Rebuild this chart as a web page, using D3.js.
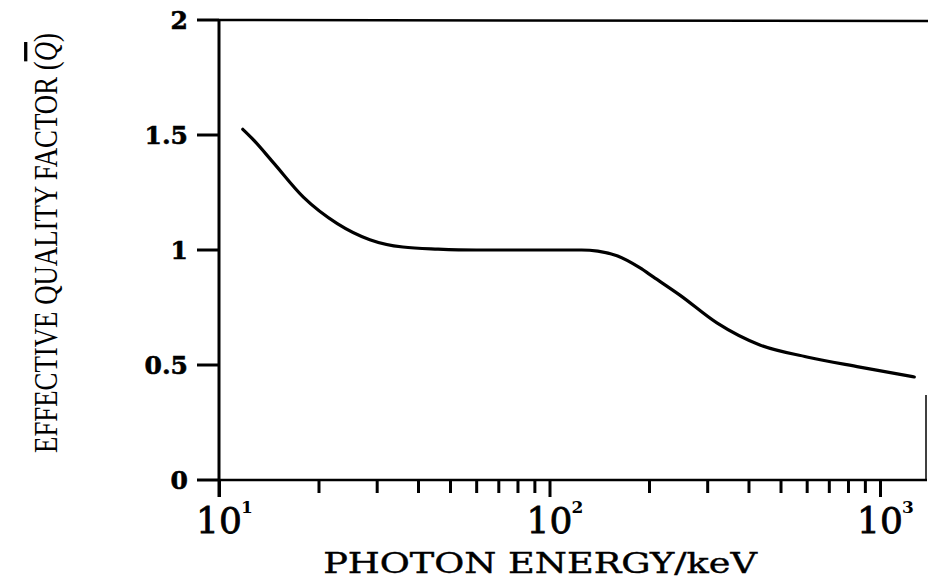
<!DOCTYPE html>
<html>
<head>
<meta charset="utf-8">
<script src="https://cdn.jsdelivr.net/npm/d3@7"></script>
<style>
  body { margin: 0; background: #fff; }
  svg { display: block; }
</style>
</head>
<body>
<script>
// photon energy (keV) and effective quality factor
var energy = [11.8, 12.5, 14.6, 18, 22.8, 28.6, 36, 46, 60, 80, 100, 125, 140, 160, 188, 206, 248, 321, 433, 601, 869, 1270];
var qbar   = [1.525, 1.49, 1.38, 1.23, 1.115, 1.045, 1.013, 1.004, 1.0, 1.0, 1.0, 1.0, 0.995, 0.975, 0.922, 0.883, 0.804, 0.683, 0.587, 0.535, 0.491, 0.448];

var yTicks = [0, 0.5, 1, 1.5, 2];
var yTickLabels = ["0", "0.5", "1", "1.5", "2"];
var xMajor = [10, 100, 1000];
var xMajorExp = ["1", "2", "3"];
var xMinor = [20, 30, 40, 50, 60, 70, 80, 90, 200, 300, 400, 500, 600, 700, 800, 900];

var width = 928, height = 581;

var x = d3.scaleLog().domain([10, 1000]).range([219, 880]);
var y = d3.scaleLinear().domain([0, 2]).range([480, 20]);
var xRight = 926;

var svg = d3.select("body").append("svg").attr("width", width).attr("height", height);

// frame lines
var frame = svg.append("g").attr("stroke", "#000").attr("fill", "none");
frame.append("line").attr("x1", x(10)).attr("x2", x(10)).attr("y1", y(2)).attr("y2", y(0) + 17).attr("stroke-width", 3);
frame.append("line").attr("x1", x(10)).attr("x2", width).attr("y1", y(2)).attr("y2", y(2) + 1).attr("stroke-width", 2.5);
frame.append("line").attr("x1", x(10)).attr("x2", xRight + 1).attr("y1", y(0)).attr("y2", y(0)).attr("stroke-width", 2.5);
frame.append("line").attr("x1", xRight).attr("x2", xRight).attr("y1", 395).attr("y2", y(0)).attr("stroke-width", 1.5);

// y axis
var yAxis = d3.axisLeft(y).tickValues(yTicks).tickSize(0).tickPadding(31)
  .tickFormat(function (d, i) { return yTickLabels[i]; });
var gy = svg.append("g").attr("transform", "translate(" + x(10) + ",0)").call(yAxis);
gy.select(".domain").remove();
gy.selectAll(".tick text")
  .style("font-family", "'DejaVu Serif'")
  .style("font-weight", "bold")
  .style("font-size", "25px")
  .style("stroke", "#000")
  .style("stroke-width", 0.6)
  .attr("fill", "#000");

// y tick dashes
svg.append("g").selectAll("line").data(yTicks).enter().append("line")
  .attr("x1", x(10) - 22)
  .attr("x2", x(10))
  .attr("y1", function (d) { return y(d); })
  .attr("y2", function (d) { return y(d); })
  .attr("stroke", "#000")
  .attr("stroke-width", 3);

// x axis minor + major ticks
var xMinorAxis = d3.axisBottom(x).tickValues(xMinor).tickSize(13).tickFormat("");
var gxm = svg.append("g").attr("transform", "translate(0," + y(0) + ")").call(xMinorAxis);
gxm.select(".domain").remove();
gxm.selectAll(".tick line").attr("stroke", "#000").attr("stroke-width", 3);

var xMajorAxis = d3.axisBottom(x).tickValues(xMajor).tickSize(17).tickFormat("");
var gx = svg.append("g").attr("transform", "translate(0," + y(0) + ")").call(xMajorAxis);
gx.select(".domain").remove();
gx.selectAll(".tick line").attr("stroke", "#000").attr("stroke-width", 3);

// x tick labels with superscript exponents
var lab = svg.append("g").style("font-family", "'DejaVu Serif'").attr("fill", "#000");
lab.selectAll("text.base").data(xMajor).enter().append("text")
  .attr("class", "base")
  .attr("x", function (d) { return x(d); })
  .attr("y", 533)
  .attr("text-anchor", "middle")
  .style("font-size", "36px")
  .style("stroke", "#000")
  .style("stroke-width", 0.8)
  .text("10");
lab.selectAll("text.exp").data(xMajor).enter().append("text")
  .attr("class", "exp")
  .attr("x", function (d) { return x(d) + 22; })
  .attr("y", 513)
  .style("font-size", "17px")
  .style("font-weight", "bold")
  .text(function (d, i) { return xMajorExp[i]; });

// fit a text to a given length by scaling it along its baseline
function fitText(sel, len) {
  var w = sel.node().getComputedTextLength();
  return len / w;
}

// axis titles
var xt = svg.append("text")
  .attr("text-anchor", "middle")
  .style("font-family", "'DejaVu Serif'")
  .style("font-size", "27px")
  .style("stroke", "#000")
  .style("stroke-width", 0.4)
  .attr("fill", "#000")
  .text("PHOTON ENERGY/keV");
var sx = fitText(xt, 434);
xt.attr("transform", "translate(540,573) scale(" + sx + ",1)");

var yt = svg.append("text")
  .attr("text-anchor", "middle")
  .style("font-family", "'Liberation Serif'")
  .style("font-size", "33px")
  .attr("fill", "#000");
yt.append("tspan").text("EFFECTIVE QUALITY FACTOR (");
yt.append("tspan").style("font-style", "italic").style("text-decoration", "overline").text("Q");
yt.append("tspan").text(")");
var sy = fitText(yt, 420);
yt.attr("transform", "translate(57,243) rotate(-90) scale(" + sy + ",1)");

// curve
var pts = energy.map(function (e, i) { return [e, qbar[i]]; });
var line = d3.line()
  .x(function (d) { return x(d[0]); })
  .y(function (d) { return y(d[1]); })
  .curve(d3.curveMonotoneX);
svg.append("path")
  .datum(pts)
  .attr("d", line)
  .attr("fill", "none")
  .attr("stroke", "#000")
  .attr("stroke-width", 3.2)
  .attr("stroke-linecap", "round");
</script>
</body>
</html>
